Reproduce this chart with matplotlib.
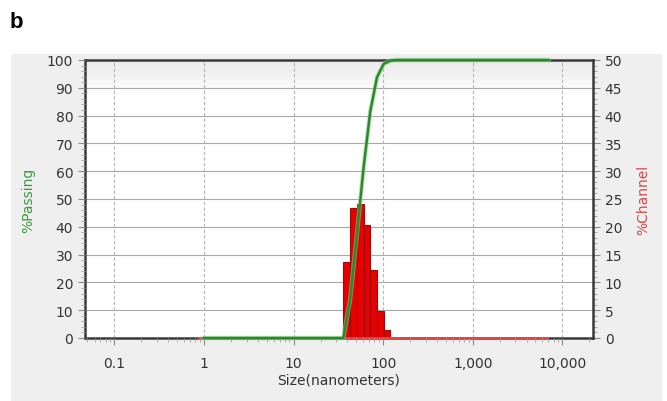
import numpy as np
import matplotlib
matplotlib.use("Agg")
from matplotlib import pyplot as plt
from matplotlib.patches import Rectangle
from matplotlib.ticker import FixedLocator, FixedFormatter, NullFormatter

# channel data (nm bin edges, % in channel)
chan_edges = [35.9, 42.7, 50.8, 60.4, 71.8, 85.4, 101.5, 120.7]
chan_pct = [13.6, 23.4, 24.1, 20.4, 12.3, 4.8, 1.4]

# cumulative % passing
pass_size = [1.0, 35.9, 42.7, 50.8, 60.4, 71.8, 85.4, 101.5, 120.7, 140.0, 7000.0]
pass_pct = [0, 0, 13.6, 37.0, 61.1, 81.5, 93.8, 98.6, 99.8, 100, 100]

# zero baseline of the channel curve
chan_zero_x = [0.84, 35.9, 120.7, 7000.0]
chan_zero_y = [0, 0, 0, 0]

x_ticks = [0.1, 1, 10, 100, 1000, 10000]
x_labels = ["0.1", "1", "10", "100", "1,000", "10,000"]

W, H = 667, 402
fig = plt.figure(figsize=(W / 100, H / 100), dpi=100)
fig.patch.set_facecolor("white")

# light gray panel behind the chart
fig.patches.append(Rectangle((11 / W, 0), (662 - 11) / W, (402 - 55) / H,
                             transform=fig.transFigure, facecolor="#efefef",
                             edgecolor="none", zorder=-3))
# faint, mostly cut-off title
fig.text(0.5, (402 - 50) / H, "Particle Size Distribution", ha="center",
         va="center", fontsize=10, color="#c9d6ea", zorder=-2)
fig.patches.append(Rectangle((0, (402 - 55) / H), 1, 55 / H,
                             transform=fig.transFigure, facecolor="white",
                             edgecolor="none", zorder=-1))

fig.text(10 / W, (402 - 22) / H, "b", fontsize=16, fontweight="bold",
         family="Liberation Sans", va="center", ha="left", zorder=3)

left, right, top, bottom = 85, 593, 61, 339
ax1 = fig.add_axes([left / W, (H - bottom) / H, (right - left) / W, (bottom - top) / H])
ax2 = ax1.twinx()
ax2.set_zorder(1)
ax1.set_zorder(2)
ax1.patch.set_visible(False)

ax1.set_xscale("log")
xlim = (0.047, 22000)

# background gradient of the plot area
grad = np.linspace(0, 1, 100).reshape(-1, 1)
grad = np.clip(grad * 8, 0, 1)
ax2.imshow(grad, extent=[0, 1, 0, 1], transform=ax2.transAxes, aspect="auto",
           cmap=matplotlib.colors.LinearSegmentedColormap.from_list("g", ["#ebebeb", "#ffffff"]),
           zorder=0, origin="upper")

# grid
for xt in x_ticks:
    ax2.axvline(xt, color="#b4b4b4", lw=0.8, ls=(0, (3, 2)), zorder=1)

# bars
widths = [chan_edges[i + 1] - chan_edges[i] for i in range(len(chan_pct))]
ax2.bar(chan_edges[:-1], chan_pct, width=widths, align="edge", color="#e60000",
        edgecolor="#9c0a0a", linewidth=0.8, zorder=3)
ax2.plot(chan_zero_x, chan_zero_y, color="#e04848", lw=2.0, zorder=4,
         solid_capstyle="butt", clip_on=False)

# cumulative
ax1.plot(pass_size, pass_pct, color="#8fd08f", lw=3.2, alpha=0.6, zorder=4, clip_on=False)
ax1.plot(pass_size, pass_pct, color="#2a8a2a", lw=1.8, zorder=5, clip_on=False)

ax1.set_xlim(*xlim)
ax2.set_xlim(*xlim)
ax1.set_ylim(0, 100)
ax2.set_ylim(0, 50)

ax2.set_yticks(np.arange(0, 51, 5))
ax2.set_yticks(np.arange(0, 51, 1), minor=True)
ax2.grid(axis="y", which="major", color="#a8a8a8", lw=0.8, zorder=1)
ax2.set_axisbelow(True)

ax1.set_yticks(np.arange(0, 101, 10))
ax1.set_yticks(np.arange(0, 101, 2), minor=True)
ax1.xaxis.set_major_locator(FixedLocator(x_ticks))
ax1.xaxis.set_major_formatter(FixedFormatter(x_labels))
ax1.xaxis.set_minor_locator(matplotlib.ticker.LogLocator(base=10, subs=np.arange(2, 10), numticks=20))
ax1.xaxis.set_minor_formatter(NullFormatter())

for ax in (ax1, ax2):
    for s in ax.spines.values():
        s.set_color("#3a3a3a")
        s.set_linewidth(1.8)
    ax.tick_params(which="major", length=5, width=0.8, color="#8a8a8a",
                   labelsize=10, labelcolor="#333333")
    ax.tick_params(which="minor", length=3, width=0.6, color="#a0a0a0")
ax1.tick_params(axis="x", pad=8)
# only the lower axes draws the frame, so the zero lines sit on top of it
for s in ax1.spines.values():
    s.set_visible(False)

ax1.set_ylabel("%Passing", color="#3c9a3c", fontsize=10, labelpad=8)
ax2.set_ylabel("%Channel", color="#d04a4a", fontsize=10, labelpad=10)
ax1.set_xlabel("Size(nanometers)", color="#333333", fontsize=10, labelpad=2)

fig.savefig("out.png", dpi=100, facecolor=fig.get_facecolor())
